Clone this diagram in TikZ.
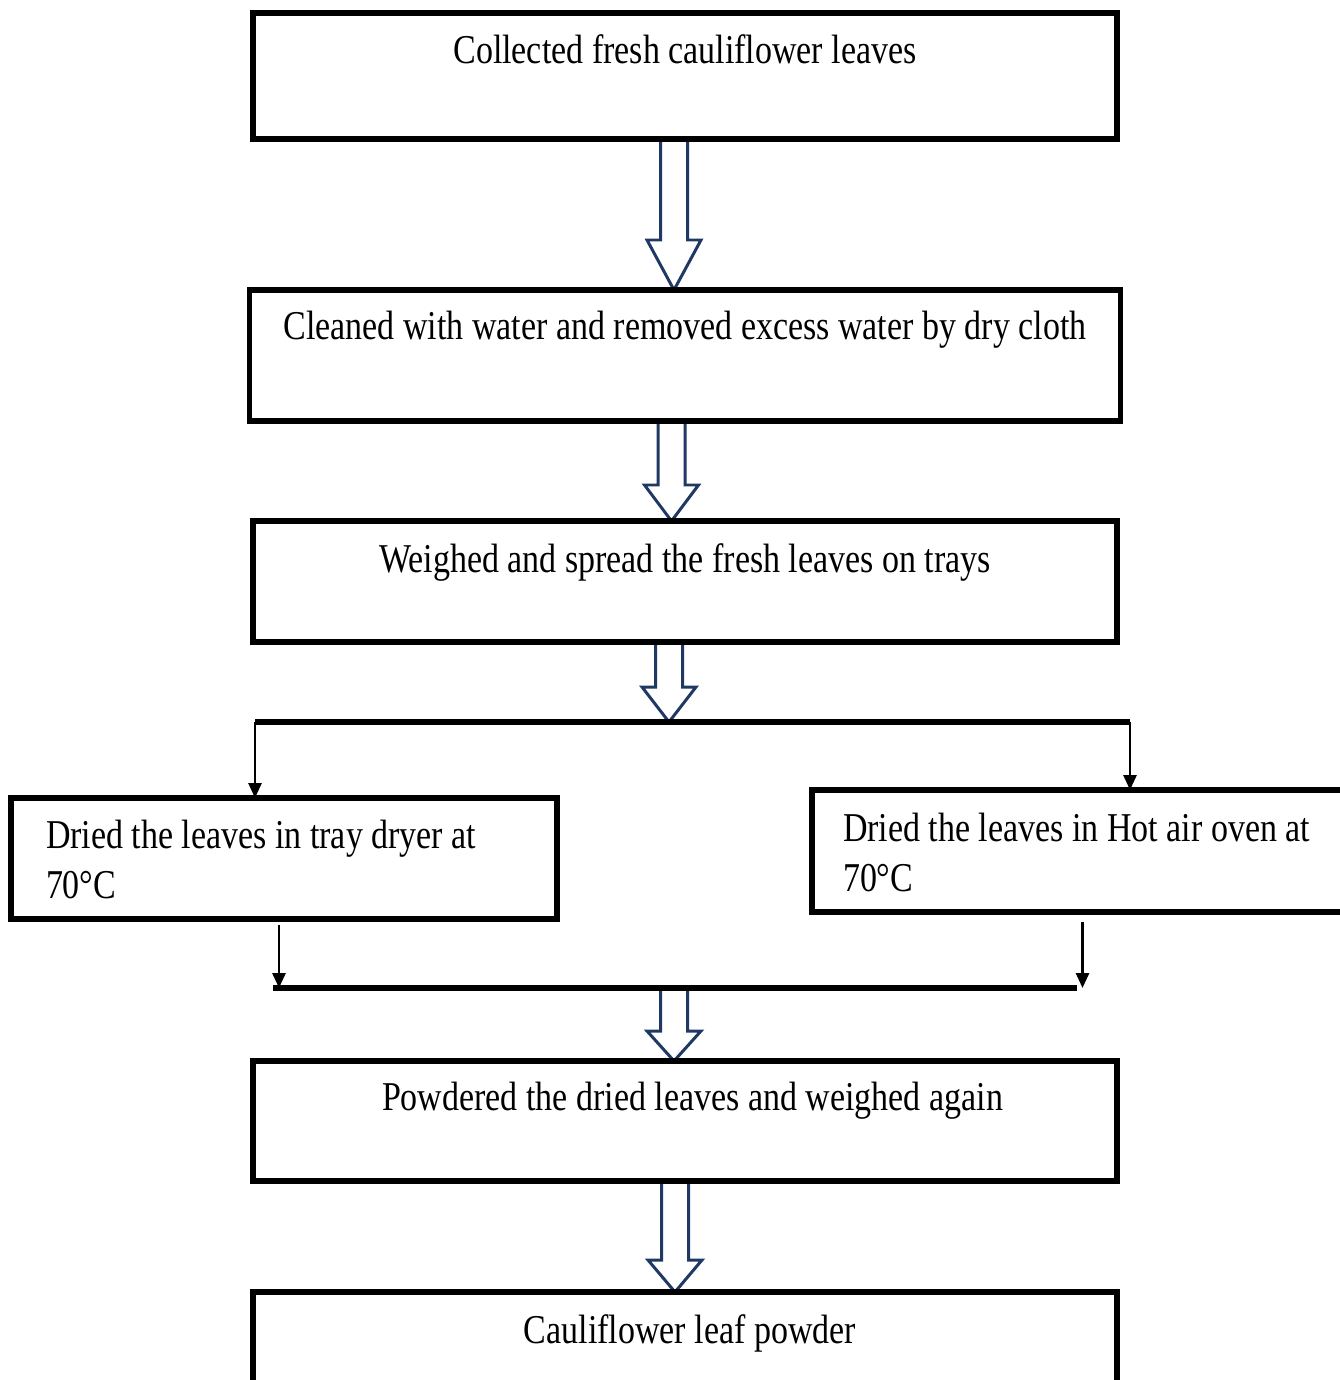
\documentclass[tikz,border=0pt]{standalone}
\usepackage{fontspec}
\setmainfont{Liberation Serif}[FakeStretch=0.83]
\usetikzlibrary{positioning, backgrounds, arrows.meta, calc}

\definecolor{arrowblue}{RGB}{31,56,100}

% hollow block arrow: from, to, x shift, head length
\newcommand{\blockarrow}[4]{%
  \draw[hollow] let \p1 = ($(#1)+(#3,0)$), \p2 = (#2) in
    (\x1-0.27cm,\y1) -- (\x1-0.27cm,\y2+#4) -- (\x1-0.54cm,\y2+#4) -- (\x1,\y2)
    -- (\x1+0.54cm,\y2+#4) -- (\x1+0.27cm,\y2+#4) -- (\x1+0.27cm,\y1) -- cycle;}

\begin{document}
\begin{tikzpicture}[
    % ── node styles ─────────────────────────────────────────
    box/.style = { draw, line width=3pt, inner xsep=0pt, inner ysep=0pt,
            outer sep=0pt, align=center, font=\fontsize{23.3}{28.5}\selectfont, },
    wide/.style = { box, minimum width=17.28cm, },
    side/.style = { box, align=flush left, inner xsep=0.62cm, },
    hollow/.style = { draw=arrowblue, fill=white, line width=1.7pt, line join=miter, },
    flow/.style = { -{Triangle[length=0.3cm, width=0.26cm]}, line width=1.6pt, },
    bar/.style = { line width=3.4pt, }, ]

    \useasboundingbox (0,0) rectangle (26.8,-27.6);

    % ============================================================
    % MAIN COLUMN — collect | clean | spread
    % ============================================================
    \node[wide, text height=1.02cm, text depth=1.5cm]
    (collect) at (13.7,-1.52)
    {Collected fresh cauliflower leaves};

    \node[wide, minimum width=17.42cm, text height=0.98cm, text depth=1.64cm,
        below=3.02cm of collect]
    (clean)
    {Cleaned with water and removed excess water by dry cloth};

    \node[wide, text height=1.02cm, text depth=1.4cm,
        below=2.0cm of clean]
    (spread)
    {Weighed and spread the fresh leaves on trays};

    % ============================================================
    % DRYING — tray dryer | hot air oven
    % ============================================================
    \coordinate (splitL) at (5.1,-14.44);
    \coordinate (splitR) at (22.6,-14.44);

    \node[side, inner xsep=0.7cm, text width=9.52cm, text height=1.0cm, text depth=1.42cm]
    (tray) at (5.68,-17.17)
    {Dried the leaves in tray dryer at\\70°C};

    \node[side, text width=9.9cm, text height=1.02cm, text depth=1.42cm]
    (oven) at (21.81,-17.02)
    {Dried the leaves in Hot air oven at\\70°C};

    \coordinate (mergeL) at (5.46,-19.76);
    \coordinate (mergeR) at (21.54,-19.76);

    % ============================================================
    % POWDER — powder | final
    % ============================================================
    \node[wide, text height=0.98cm, text depth=1.42cm]
    (powder) at (13.7,-22.42)
    {\hspace*{0.3cm}Powdered the dried leaves and weighed again};

    \node[wide, text height=1.02cm, text depth=1.38cm,
        below=2.22cm of powder]
    (final)
    {\hspace*{0.2cm}Cauliflower leaf powder};

    % ============================================================
    % SPLIT AND MERGE
    % ============================================================
    \draw[bar] (splitL) -- (splitR);
    \draw[flow] (splitL) -- (splitL |- tray.north);
    \draw[flow] (splitR) -- (splitR |- oven.north);

    \draw[flow, shorten <=0.12cm] ([xshift=-0.1cm]tray.south) -- ([xshift=-0.1cm]tray.south |- mergeL);
    \draw[flow, shorten <=0.2cm] ([xshift=-0.16cm]oven.south) -- ([xshift=-0.16cm]oven.south |- mergeR);
    \draw[bar] (mergeL) -- (mergeR);

    % ============================================================
    % BLOCK ARROWS
    % ============================================================
    \begin{scope}[on background layer]
        \blockarrow{collect.south}{clean.north}{-0.22}{1.0cm}
        \blockarrow{clean.south}{spread.north}{-0.27}{0.72cm}
        \blockarrow{spread.south}{splitL}{-0.32}{0.7cm}
        \blockarrow{powder.north |- mergeL}{powder.north}{-0.22}{0.6cm}
        \blockarrow{powder.south}{final.north}{-0.2}{0.64cm}
    \end{scope}

\end{tikzpicture}
\end{document}
